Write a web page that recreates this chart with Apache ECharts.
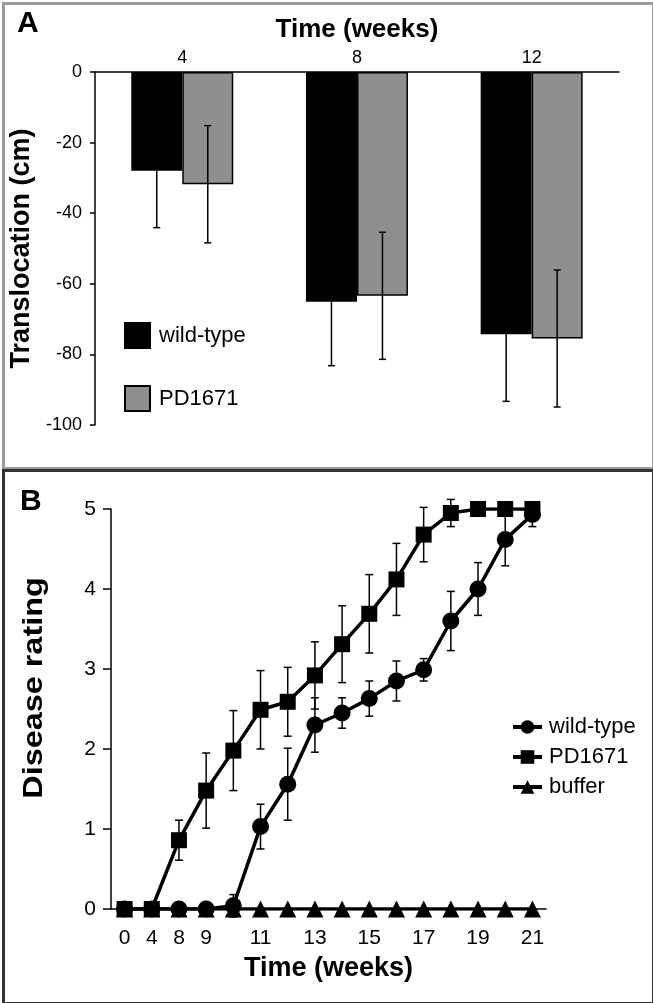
<!DOCTYPE html>
<html>
<head>
<meta charset="utf-8">
<script src="https://cdn.jsdelivr.net/npm/echarts@6/dist/echarts.min.js"></script>
<style>
html,body{margin:0;padding:0;background:#fff;}
#chart{width:653px;height:1003px;}
</style>
</head>
<body>
<div id="chart"></div>
<script>
// ---- Panel A data ----
const weeksA = ['4', '8', '12'];
const wildTypeTrans = [-28, -65.1, -74.3];
const wildTypeTransErr = [16.1, 18.1, 19.0];
const pd1671Trans = [-31.8, -63.4, -75.5];
const pd1671TransErr = [16.6, 18.0, 19.4];

// ---- Panel B data ----
const weeksB = ['0', '4', '8', '9', '10', '11', '12', '13', '14', '15', '16', '17', '18', '19', '20', '21'];
const wildTypeRating = [0, 0, 0, 0, 0.04, 1.03, 1.56, 2.30, 2.45, 2.63, 2.85, 2.99, 3.60, 4.00, 4.62, 4.93];
const wildTypeRatingErr = [0, 0, 0, 0, 0.14, 0.28, 0.45, 0.34, 0.19, 0.22, 0.25, 0.14, 0.37, 0.33, 0.33, 0.15];
const pd1671Rating = [0, 0, 0.86, 1.48, 1.98, 2.49, 2.59, 2.92, 3.31, 3.69, 4.12, 4.68, 4.95, 5, 5, 5];
const pd1671RatingErr = [0, 0, 0.25, 0.47, 0.50, 0.49, 0.43, 0.42, 0.48, 0.49, 0.45, 0.34, 0.17, 0, 0, 0];
const bufferRating = [0, 0, 0, 0, 0, 0, 0, 0, 0, 0, 0, 0, 0, 0, 0, 0];

const FONT = '"Liberation Sans", Arial, Helvetica, sans-serif';
const BAR_W = 51;

function errData(vals, errs) {
  return vals.map((v, i) => [i, v, errs[i]]);
}

function errRenderer(offset, cap) {
  return function (params, api) {
    const i = api.value(0), v = api.value(1), e = api.value(2);
    if (!e) return null;
    const p1 = api.coord([i, v + e]);
    const p2 = api.coord([i, v - e]);
    const x = p1[0] + offset;
    const st = { stroke: '#000', lineWidth: 1.5 };
    return {
      type: 'group',
      children: [
        { type: 'line', shape: { x1: x, y1: p1[1], x2: x, y2: p2[1] }, style: st },
        { type: 'line', shape: { x1: x - cap, y1: p1[1], x2: x + cap, y2: p1[1] }, style: st },
        { type: 'line', shape: { x1: x - cap, y1: p2[1], x2: x + cap, y2: p2[1] }, style: st }
      ]
    };
  };
}

const displayNames = { 'wt-B': 'wild-type', 'pd-B': 'PD1671', 'buf-B': 'buffer' };

const chart = echarts.init(document.getElementById('chart'), null, { renderer: 'canvas' });

const axisLine = { show: true, lineStyle: { color: '#000', width: 1.5 } };

const option = {
  animation: false,
  backgroundColor: '#fff',
  textStyle: { fontFamily: FONT },
  graphic: [
    { type: 'rect', left: 1, top: 1, shape: { width: 650, height: 465 }, style: { fill: 'none', stroke: '#9a9a9a', lineWidth: 3 }, z: 100 },
    { type: 'rect', left: 1, top: 468, shape: { width: 650, height: 533 }, style: { fill: 'none', stroke: '#333', lineWidth: 3 }, z: 100 },
    { type: 'text', left: 17, top: 9, style: { text: 'A', font: 'bold 30px ' + FONT, fill: '#000' } },
    { type: 'text', left: 20, top: 487, style: { text: 'B', font: 'bold 30px ' + FONT, fill: '#000' } },
    { type: 'text', x: 35, y: 688, rotation: Math.PI / 2, scaleX: 1.2, scaleY: 1,
      style: { text: 'Disease rating', font: 'bold 27px ' + FONT, fill: '#000', align: 'center', verticalAlign: 'middle' } }
  ],
  grid: [
    { left: 88, top: 72, width: 531, height: 353 },
    { left: 111, top: 509, width: 435, height: 400 }
  ],
  legend: [
    {
      orient: 'vertical', left: 119, top: 317, itemWidth: 25, itemHeight: 25, itemGap: 36,
      selectedMode: false,
      textStyle: { fontSize: 22, color: '#000', fontFamily: FONT, padding: [0, 0, 0, 4] },
      data: [
        { name: 'wild-type', icon: 'rect' },
        { name: 'PD1671', icon: 'rect' }
      ]
    },
    {
      orient: 'vertical', left: 506, top: 711, itemWidth: 29, itemHeight: 17, itemGap: 8,
      selectedMode: false,
      formatter: n => displayNames[n] || n,
      lineStyle: { width: 4, color: '#000' },
      textStyle: { fontSize: 22, color: '#000', fontFamily: FONT, padding: [0, 0, 0, 2] },
      data: ['wt-B', 'pd-B', 'buf-B']
    }
  ],
  xAxis: [
    {
      gridIndex: 0, type: 'category', position: 'top', data: weeksA,
      axisLine: axisLine, axisTick: { show: false },
      axisLabel: { fontSize: 18, color: '#000', margin: 5, fontFamily: FONT },
      name: 'Time (weeks)', nameLocation: 'middle', nameGap: 29,
      nameTextStyle: { fontSize: 26, fontWeight: 'bold', color: '#000', fontFamily: FONT }
    },
    {
      gridIndex: 1, type: 'category', data: weeksB, boundaryGap: true,
      axisLine: axisLine, axisTick: { show: false },
      axisLabel: { fontSize: 21, color: '#000', margin: 19, fontFamily: FONT,
        interval: (idx) => idx <= 3 || idx % 2 === 1 },
      name: 'Time (weeks)', nameLocation: 'middle', nameGap: 46,
      nameTextStyle: { fontSize: 27, fontWeight: 'bold', color: '#000', fontFamily: FONT }
    }
  ],
  yAxis: [
    {
      gridIndex: 0, type: 'value', min: -100, max: 0, interval: 20,
      axisLine: axisLine, axisTick: { show: true, length: 5, lineStyle: { color: '#000', width: 1.5 } },
      splitLine: { show: false },
      axisLabel: { fontSize: 18, color: '#000', margin: 13, fontFamily: FONT },
      name: 'Translocation (cm)', nameLocation: 'middle', nameGap: 47,
      nameTextStyle: { fontSize: 27, fontWeight: 'bold', color: '#000', fontFamily: FONT }
    },
    {
      gridIndex: 1, type: 'value', min: 0, max: 5, interval: 1,
      axisLine: axisLine, axisTick: { show: true, length: 8, lineStyle: { color: '#000', width: 1.5 } },
      splitLine: { show: false },
      axisLabel: { fontSize: 21, color: '#000', margin: 15, fontFamily: FONT }
    }
  ],
  series: [
    {
      name: 'wild-type', type: 'bar', xAxisIndex: 0, yAxisIndex: 0, data: wildTypeTrans,
      barWidth: BAR_W, barGap: '0%',
      itemStyle: { color: '#000', borderColor: '#000', borderWidth: 1.5 }
    },
    {
      name: 'PD1671', type: 'bar', xAxisIndex: 0, yAxisIndex: 0, data: pd1671Trans,
      barWidth: BAR_W, barGap: '0%',
      itemStyle: { color: '#8f8f8f', borderColor: '#000', borderWidth: 1.5 }
    },
    {
      name: 'errA-wt', type: 'custom', xAxisIndex: 0, yAxisIndex: 0, z: 5,
      renderItem: errRenderer(-BAR_W / 2, 3.5), data: errData(wildTypeTrans, wildTypeTransErr)
    },
    {
      name: 'errA-pd', type: 'custom', xAxisIndex: 0, yAxisIndex: 0, z: 5,
      renderItem: errRenderer(BAR_W / 2, 3.5), data: errData(pd1671Trans, pd1671TransErr)
    },
    {
      name: 'errB-wt', type: 'custom', xAxisIndex: 1, yAxisIndex: 1, z: 1,
      renderItem: errRenderer(0, 4), data: errData(wildTypeRating, wildTypeRatingErr)
    },
    {
      name: 'errB-pd', type: 'custom', xAxisIndex: 1, yAxisIndex: 1, z: 1,
      renderItem: errRenderer(0, 4), data: errData(pd1671Rating, pd1671RatingErr)
    },
    {
      name: 'buf-B', type: 'line', xAxisIndex: 1, yAxisIndex: 1, data: bufferRating, z: 2,
      symbol: 'triangle', symbolSize: 17, showAllSymbol: true,
      lineStyle: { color: '#000', width: 3.5 }, itemStyle: { color: '#000' }
    },
    {
      name: 'wt-B', type: 'line', xAxisIndex: 1, yAxisIndex: 1, data: wildTypeRating, z: 3,
      symbol: 'circle', symbolSize: 17, showAllSymbol: true,
      lineStyle: { color: '#000', width: 3.5 }, itemStyle: { color: '#000' }
    },
    {
      name: 'pd-B', type: 'line', xAxisIndex: 1, yAxisIndex: 1, data: pd1671Rating, z: 4,
      symbol: 'rect', symbolSize: 16, showAllSymbol: true,
      lineStyle: { color: '#000', width: 3.5 }, itemStyle: { color: '#000' }
    }
  ]
};
chart.setOption(option);
</script>
</body>
</html>
